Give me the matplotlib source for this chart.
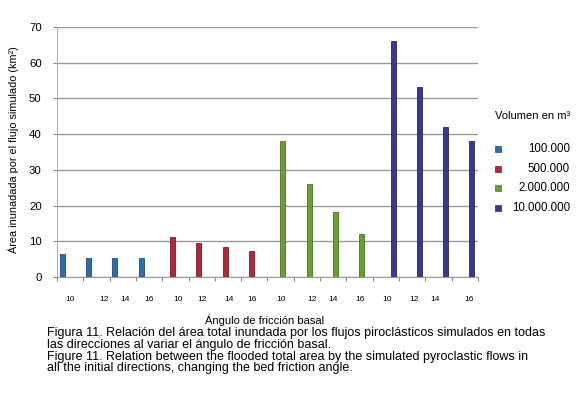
import numpy as np
import matplotlib
matplotlib.use('Agg')
import matplotlib.pyplot as plt
from matplotlib.patches import Rectangle

plt.rcParams['font.family'] = ['Liberation Sans', 'DejaVu Sans']

volumes = ['100.000', '500.000', '2.000.000', '10.000.000']
angles = ['10', '12', '14', '16']
area_100k = [6.4, 5.3, 5.3, 5.3]
area_500k = [11.2, 9.5, 8.3, 7.4]
area_2m = [38.2, 26.1, 18.2, 12.1]
area_10m = [66.1, 53.1, 42.0, 38.2]
series = [area_100k, area_500k, area_2m, area_10m]
colors = ['#2b6cae', '#b1283d', '#6b9f35', '#3c388f']
edges = ['#1d4f80', '#821a2b', '#4c7524', '#28255f']

# label positions as placed by hand in the original (category units)
label_pos = [0.49, 1.79, 2.59, 3.5, 4.6, 5.51, 6.54, 7.41,
             8.52, 9.7, 10.5, 11.5, 12.55, 13.55, 14.35, 15.66]

fig = plt.figure(figsize=(5.79, 3.95), dpi=100)
ax = fig.add_axes([0.0984, 0.2987, 0.7272, 0.6329])

w = 0.19
for s, vals in enumerate(series):
    cats = np.arange(4) + 4 * s
    ax.bar(cats + 0.2 + w * s, vals, width=w, color=colors[s],
           edgecolor=edges[s], linewidth=0.6, zorder=3)

ax.set_xlim(0, 16)
ax.set_ylim(0, 70)
ax.set_yticks(range(0, 71, 10))
ax.yaxis.grid(True, color='#9a9a9a', linewidth=1.0, zorder=0)
ax.tick_params(axis='y', length=3, color='#888888', width=0.8, labelsize=8.2, pad=8)

ax.set_xticks(label_pos)
ax.set_xticklabels(angles * 4, fontsize=6)
ax.tick_params(axis='x', which='major', length=0, pad=14)
ax.set_xticks(np.arange(0, 17), minor=True)
ax.tick_params(axis='x', which='minor', length=3, color='#888888', width=0.8)

for sp in ['top', 'right']:
    ax.spines[sp].set_visible(False)
ax.spines['left'].set_color('#b0b0b0')
ax.spines['bottom'].set_color('#9a9a9a')

ax.set_ylabel('Área inunadada por el flujo simulado (km²)', fontsize=7.8)
ax.yaxis.set_label_coords(-0.09, 0.508)

fig.text(265 / 579, 1 - 320 / 395, 'Ángulo de fricción basal', fontsize=8,
         ha='center', va='center')

# legend
fig.text(533 / 579, 1 - 116 / 395, 'Volumen en m³', fontsize=8, ha='center', va='center')
for i, (lab, c, e) in enumerate(zip(volumes, colors, edges)):
    yc = 149 + 19.7 * i
    fig.patches.append(Rectangle((495 / 579, 1 - (yc + 3) / 395), 6 / 579, 6 / 395,
                                 transform=fig.transFigure, facecolor=c,
                                 edgecolor=e, linewidth=0.5))
    fig.text(570 / 579, 1 - yc / 395, lab, fontsize=8.3, ha='right', va='center')

caption = ['Figura 11. Relación del área total inundada por los flujos piroclásticos simulados en todas',
           'las direcciones al variar el ángulo de fricción basal.',
           'Figure 11. Relation between the flooded total area by the simulated pyroclastic flows in',
           'all the initial directions, changing the bed friction angle.']
for i, line in enumerate(caption):
    fig.text(47 / 579, 1 - (333 + 11.8 * i) / 395, line, fontsize=9.0,
             ha='left', va='center')

fig.savefig('out.png', dpi=100)
